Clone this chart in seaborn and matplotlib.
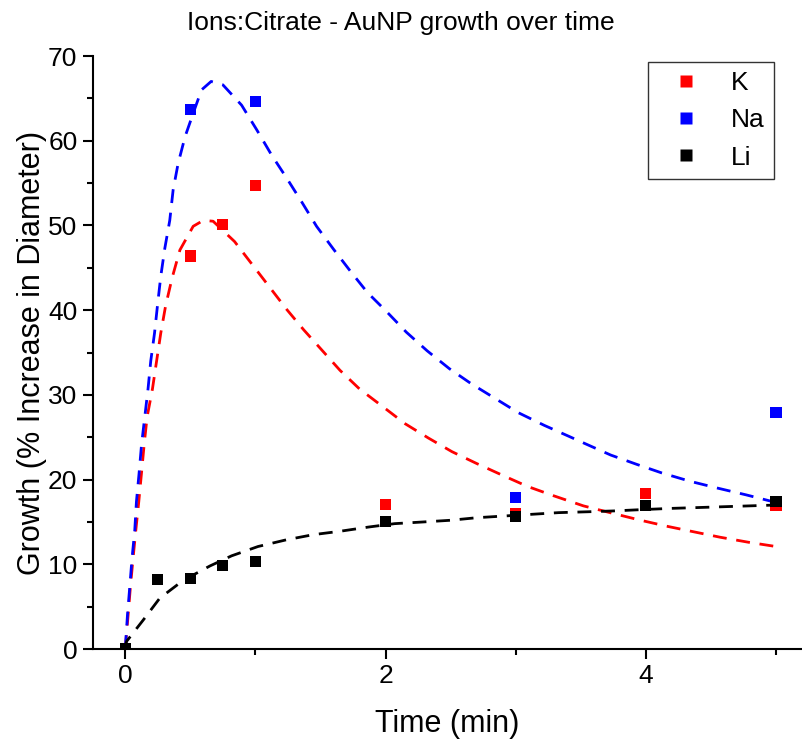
import matplotlib
matplotlib.use("Agg")
import matplotlib.pyplot as plt
import seaborn as sns
import pandas as pd
from matplotlib.ticker import MultipleLocator

# Measured points
k_time = [0, 0.5, 0.75, 1, 2, 3, 4, 5]
k_growth = [0.0, 46.4, 50.1, 54.7, 17.1, 16.0, 18.4, 17.0]
na_time = [0, 0.5, 1, 3, 5]
na_growth = [0.0, 63.7, 64.6, 17.9, 27.9]
li_time = [0, 0.25, 0.5, 0.75, 1, 2, 3, 4, 5]
li_growth = [0.0, 8.2, 8.3, 9.9, 10.3, 15.1, 15.6, 16.9, 17.4]

# Fitted curves
k_fit_t = [0, 0.022, 0.04, 0.06, 0.081, 0.104, 0.125, 0.145, 0.168, 0.209, 0.24, 0.273,
           0.31, 0.36, 0.42, 0.522, 0.6, 0.675, 0.84, 0.98, 1.11, 1.24, 1.37, 1.51, 1.65,
           1.8, 1.98, 2.15, 2.33, 2.51, 2.7, 2.9, 3.09, 3.29, 3.52, 3.75, 3.96, 4.16,
           4.38, 4.57, 4.79, 5.0]
k_fit_y = [0, 4.0, 7.4, 10.7, 14.0, 17.4, 20.8, 24.1, 27.4, 30.7, 33.9, 37.3,
           40.5, 43.8, 47.1, 49.9, 50.6, 50.5, 48.1, 45.3, 42.7, 40.1, 37.7, 35.3, 32.9,
           30.7, 28.6, 26.6, 24.9, 23.3, 21.9, 20.5, 19.2, 18.1, 16.9, 16.0, 15.2, 14.5,
           13.8, 13.2, 12.6, 12.1]
na_fit_t = [0, 0.017, 0.035, 0.052, 0.073, 0.086, 0.106, 0.125, 0.15, 0.175, 0.196,
            0.225, 0.248, 0.273, 0.304, 0.342, 0.368, 0.406, 0.46, 0.535, 0.586, 0.66,
            0.75, 0.894, 1.01, 1.125, 1.24, 1.355, 1.47, 1.6, 1.73, 1.86, 2.01, 2.16,
            2.32, 2.49, 2.66, 2.84, 3.02, 3.22, 3.41, 3.54, 3.73, 3.93, 4.12, 4.34,
            4.55, 4.77, 5.0]
na_fit_y = [0, 4.0, 7.4, 10.7, 14.0, 17.4, 20.7, 24.1, 27.4, 30.7, 34.0,
            37.3, 40.6, 44.0, 47.3, 50.6, 54.2, 57.3, 60.5, 63.8, 66.0, 67.0,
            66.6, 64.2, 61.3, 58.3, 55.6, 52.8, 49.9, 47.2, 44.6, 42.1, 39.8, 37.4,
            35.2, 33.1, 31.3, 29.6, 27.9, 26.4, 25.1, 24.2, 22.9, 21.8, 20.8, 19.8,
            19.0, 18.2, 17.3]
li_fit_t = [0, 0.01, 0.137, 0.265, 0.445, 0.65, 0.817, 1.02, 1.24, 1.445, 1.65, 1.87,
            2.07, 2.29, 2.5, 2.7, 2.91, 3.12, 3.33, 3.55, 3.75, 3.96, 4.19, 4.4, 4.6,
            4.8, 5.0]
li_fit_y = [0, 0.9, 3.4, 6.0, 8.1, 9.8, 11.0, 12.1, 12.9, 13.5, 13.9, 14.4,
            14.8, 15.0, 15.2, 15.5, 15.7, 15.9, 16.1, 16.2, 16.3, 16.45, 16.6, 16.7, 16.8,
            16.9, 17.0]

ions = ["K", "Na", "Li"]
colors = {"K": "#ff0000", "Na": "#0000ff", "Li": "#000000"}

points = pd.concat([
    pd.DataFrame({"Time": k_time, "Growth": k_growth, "Ion": "K"}),
    pd.DataFrame({"Time": na_time, "Growth": na_growth, "Ion": "Na"}),
    pd.DataFrame({"Time": li_time, "Growth": li_growth, "Ion": "Li"}),
], ignore_index=True)
fits = pd.concat([
    pd.DataFrame({"Time": k_fit_t, "Growth": k_fit_y, "Ion": "K"}),
    pd.DataFrame({"Time": na_fit_t, "Growth": na_fit_y, "Ion": "Na"}),
    pd.DataFrame({"Time": li_fit_t, "Growth": li_fit_y, "Ion": "Li"}),
], ignore_index=True)

sns.set_theme(style="ticks")
plt.rcParams['font.family'] = ['Liberation Sans', 'DejaVu Sans']
plt.rcParams['text.color'] = 'black'

fig = plt.figure(figsize=(8.02, 7.42), dpi=100)
ax = fig.add_axes([0.1156, 0.1253, 0.8844, 0.7992])

for ion in ions:
    sub = fits[fits["Ion"] == ion]
    sns.lineplot(data=sub, x="Time", y="Growth", ax=ax, color=colors[ion],
                 linewidth=2, linestyle=(0, (5, 3.5)), sort=False,
                 estimator=None, legend=False, zorder=2)

sns.scatterplot(data=points, x="Time", y="Growth", hue="Ion", hue_order=ions,
                palette=colors, marker="s", s=64, edgecolor="none", ax=ax, zorder=3)

ax.set_xlim(-0.25, 5.2)
ax.set_ylim(0, 70)
ax.xaxis.set_major_locator(MultipleLocator(2))
ax.xaxis.set_minor_locator(MultipleLocator(1))
ax.yaxis.set_major_locator(MultipleLocator(10))
ax.yaxis.set_minor_locator(MultipleLocator(5))
ax.tick_params(axis="both", which="major", length=7, width=1.5, direction="out",
               labelsize=19, color="black", labelcolor="black", pad=4)
ax.tick_params(axis="both", which="minor", length=4, width=1.5, direction="out",
               color="black")
for side in ["top", "right"]:
    ax.spines[side].set_visible(False)
for side in ["left", "bottom"]:
    ax.spines[side].set_linewidth(1.5)
    ax.spines[side].set_color("black")

ax.set_xlabel("Time (min)", fontsize=22, labelpad=15, color="black")
ax.set_ylabel("Growth (% Increase in Diameter)", fontsize=22, labelpad=1, color="black")
fig.suptitle("Ions:Citrate - AuNP growth over time", fontsize=19, x=0.5, y=0.985,
             color="black")

leg = ax.legend(loc="upper right", bbox_to_anchor=(0.96, 0.99), frameon=True,
                fancybox=False, edgecolor="black", fontsize=19, handletextpad=0.6,
                borderpad=0.35, labelspacing=0.5, markerscale=1.0, borderaxespad=0,
                handlelength=2.2)
leg.get_frame().set_linewidth(1.0)
for t in leg.get_texts():
    t.set_color("black")
leg.set_title(None)

fig.savefig("out.png", dpi=100)
